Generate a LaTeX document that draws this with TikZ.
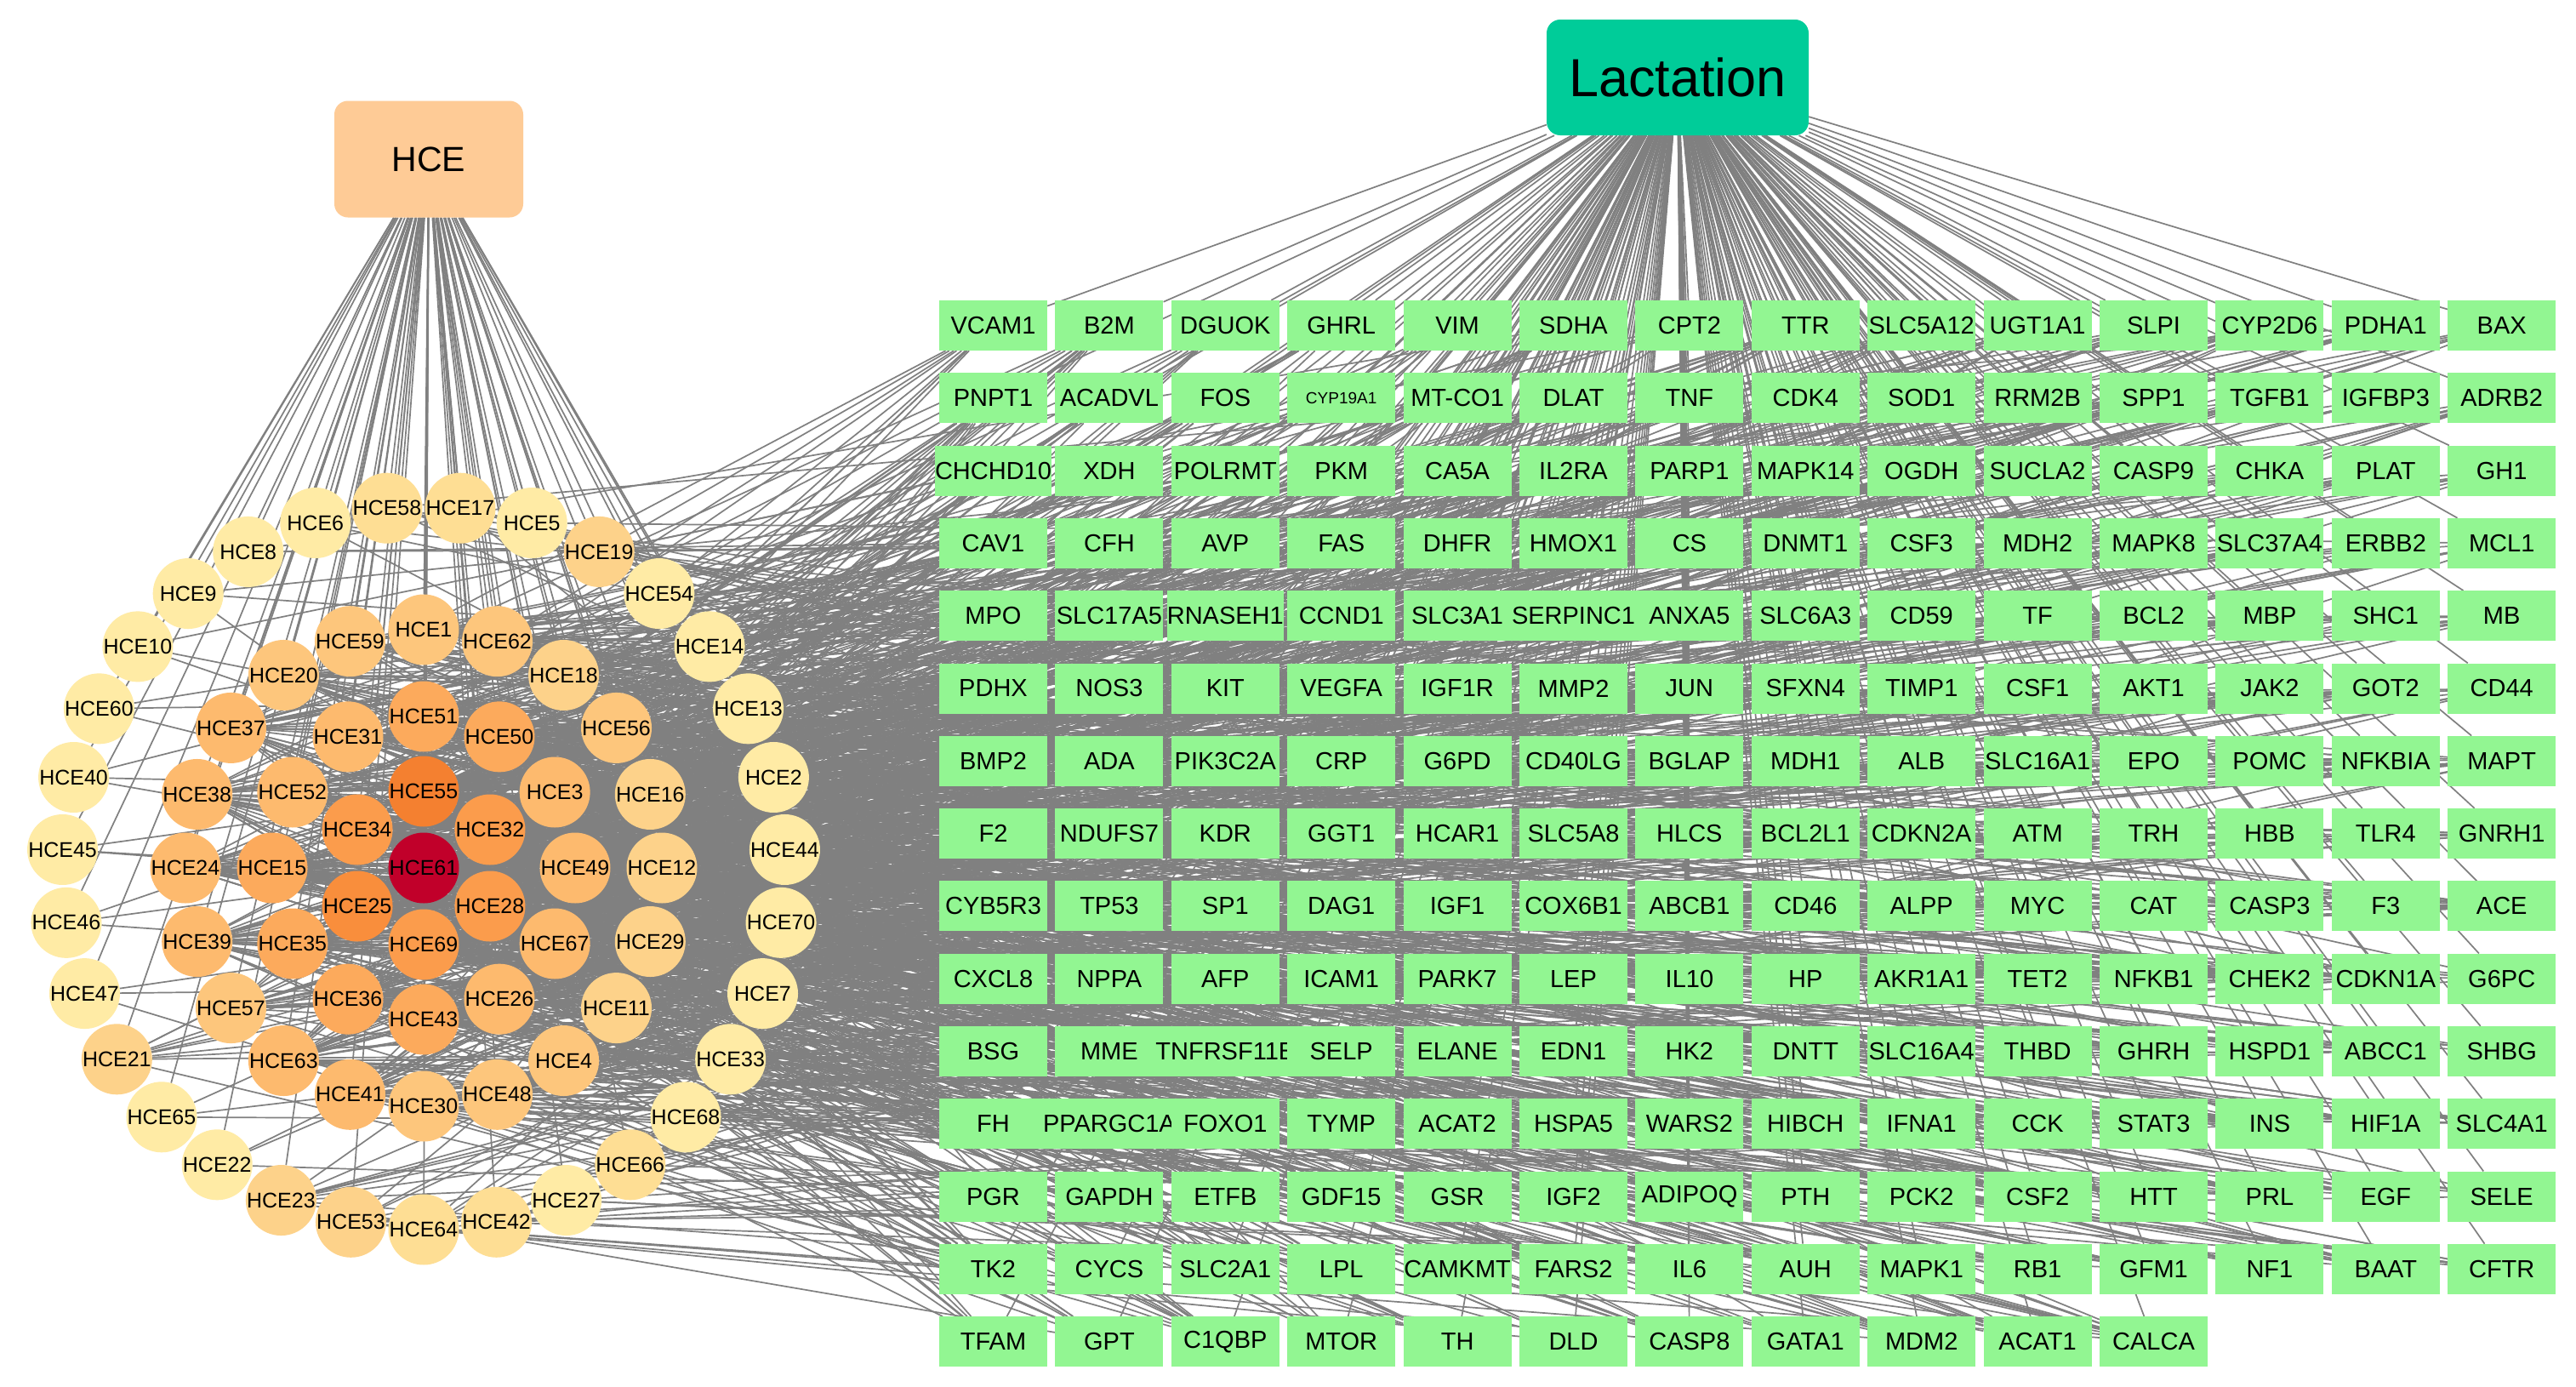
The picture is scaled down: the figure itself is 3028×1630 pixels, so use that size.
\documentclass[tikz,border=0pt]{standalone}
\usepackage{fontspec}
\setmainfont{Liberation Sans}
\usetikzlibrary{backgrounds}
\definecolor{hc1}{RGB}{255,235,165}
\definecolor{hc2}{RGB}{254,222,148}
\definecolor{hc3}{RGB}{253,210,138}
\definecolor{hc4}{RGB}{253,198,124}
\definecolor{hc5}{RGB}{253,186,110}
\definecolor{hc6}{RGB}{252,170,92}
\definecolor{hc7}{RGB}{251,156,76}
\definecolor{hc8}{RGB}{249,142,60}
\definecolor{hc9}{RGB}{244,128,48}
\definecolor{hc10}{RGB}{193,0,42}
\definecolor{boxgreen}{RGB}{146,246,146}
\definecolor{hcebox}{RGB}{254,203,150}
\definecolor{lacbox}{RGB}{0,204,153}
\definecolor{edgegray}{RGB}{128,128,128}
\newcommand\cyptext{{\fontsize{19}{22}\selectfont CYP19A1}}
\def\outerlist{17/2,5/1,19/3,54/1,14/1,13/1,2/1,44/1,70/1,7/1,33/1,68/1,66/2,27/1,42/2,64/2,53/3,23/3,22/1,65/1,21/3,47/1,46/1,45/1,40/1,60/1,10/1,9/1,8/1,6/1,58/2}
\def\midlist{1/4,62/4,18/3,56/4,16/3,12/3,29/3,11/3,4/4,48/4,30/4,41/5,63/5,57/4,39/5,24/5,38/5,37/5,20/4,59/4}
\def\innerlist{51/6,50/6,3/5,49/5,67/5,26/5,43/6,36/6,35/6,15/6,52/5,31/5}
\def\corelist{55/9,32/7,28/7,69/7,25/8,34/7}
\edef\alllist{\outerlist,\midlist,\innerlist,\corelist,61/10}
\begin{document}
\begin{tikzpicture}[x=1pt,y=-1pt,
  gbox/.style={rectangle, fill=boxgreen, minimum width=127pt, minimum height=59pt, inner sep=0pt, font=\fontsize{29}{34}\selectfont},
  hnode/.style={circle, minimum size=83pt, inner sep=0pt, font=\fontsize{25}{30}\selectfont},
  edge/.style={draw=edgegray, line width=1.7pt},
  topbox/.style={rectangle, rounded corners=16pt, inner sep=0pt}]
\useasboundingbox (0,0) rectangle (3028,1630);
% source nodes
\node[topbox, fill=hcebox, minimum width=222pt, minimum height=137pt, font=\fontsize{41}{48}\selectfont] (hce) at (504,187) {HCE};
\node[topbox, fill=lacbox, minimum width=308pt, minimum height=136pt, font=\fontsize{63}{72}\selectfont] (lac) at (1972,91) {Lactation};
% compound rings
\foreach \n/\k [count=\i from 0] in \outerlist {
  \pgfmathsetmacro\ang{84.194-11.6129*\i}
  \pgfmathsetmacro\px{498+425*cos(\ang)}
  \pgfmathsetmacro\py{1020-425*sin(\ang)}
  \node[hnode, fill=hc\k] (h\n) at (\px,\py) {HCE\n};
}
\foreach \n/\k [count=\i from 0] in \midlist {
  \pgfmathsetmacro\ang{90-18*\i}
  \pgfmathsetmacro\px{498+280*cos(\ang)}
  \pgfmathsetmacro\py{1020-280*sin(\ang)}
  \node[hnode, fill=hc\k] (h\n) at (\px,\py) {HCE\n};
}
\foreach \n/\k [count=\i from 0] in \innerlist {
  \pgfmathsetmacro\ang{90-30*\i}
  \pgfmathsetmacro\px{498+178*cos(\ang)}
  \pgfmathsetmacro\py{1020-178*sin(\ang)}
  \node[hnode, fill=hc\k] (h\n) at (\px,\py) {HCE\n};
}
\foreach \n/\k [count=\i from 0] in \corelist {
  \pgfmathsetmacro\ang{90-60*\i}
  \pgfmathsetmacro\px{498+90*cos(\ang)}
  \pgfmathsetmacro\py{1020-90*sin(\ang)}
  \node[hnode, fill=hc\k] (h\n) at (\px,\py) {HCE\n};
}
\node[hnode, fill=hc10] (h61) at (498,1020) {HCE61};
% target grid
\foreach \t [count=\j] in {VCAM1,B2M,DGUOK,GHRL,VIM,SDHA,CPT2,TTR,SLC5A12,UGT1A1,SLPI,CYP2D6,PDHA1,BAX,
PNPT1,ACADVL,FOS,\cyptext,MT-CO1,DLAT,TNF,CDK4,SOD1,RRM2B,SPP1,TGFB1,IGFBP3,ADRB2,
CHCHD10,XDH,POLRMT,PKM,CA5A,IL2RA,PARP1,MAPK14,OGDH,SUCLA2,CASP9,CHKA,PLAT,GH1,
CAV1,CFH,AVP,FAS,DHFR,HMOX1,CS,DNMT1,CSF3,MDH2,MAPK8,SLC37A4,ERBB2,MCL1,
MPO,SLC17A5,RNASEH1,CCND1,SLC3A1,SERPINC1,ANXA5,SLC6A3,CD59,TF,BCL2,MBP,SHC1,MB,
PDHX,NOS3,KIT,VEGFA,IGF1R,MMP2,JUN,SFXN4,TIMP1,CSF1,AKT1,JAK2,GOT2,CD44,
BMP2,ADA,PIK3C2A,CRP,G6PD,CD40LG,BGLAP,MDH1,ALB,SLC16A1,EPO,POMC,NFKBIA,MAPT,
F2,NDUFS7,KDR,GGT1,HCAR1,SLC5A8,HLCS,BCL2L1,CDKN2A,ATM,TRH,HBB,TLR4,GNRH1,
CYB5R3,TP53,SP1,DAG1,IGF1,COX6B1,ABCB1,CD46,ALPP,MYC,CAT,CASP3,F3,ACE,
CXCL8,NPPA,AFP,ICAM1,PARK7,LEP,IL10,HP,AKR1A1,TET2,NFKB1,CHEK2,CDKN1A,G6PC,
BSG,MME,TNFRSF11B,SELP,ELANE,EDN1,HK2,DNTT,SLC16A4,THBD,GHRH,HSPD1,ABCC1,SHBG,
FH,PPARGC1A,FOXO1,TYMP,ACAT2,HSPA5,WARS2,HIBCH,IFNA1,CCK,STAT3,INS,HIF1A,SLC4A1,
PGR,GAPDH,ETFB,GDF15,GSR,IGF2,ADIPOQ,PTH,PCK2,CSF2,HTT,PRL,EGF,SELE,
TK2,CYCS,SLC2A1,LPL,CAMKMT,FARS2,IL6,AUH,MAPK1,RB1,GFM1,NF1,BAAT,CFTR,
TFAM,GPT,C1QBP,MTOR,TH,DLD,CASP8,GATA1,MDM2,ACAT1,CALCA} {
  \pgfmathtruncatemacro\rw{(\j-1)/14}
  \pgfmathtruncatemacro\cl{\j-1-14*\rw}
  \node[gbox] (b\j) at (1167.5+136.4*\cl, 382.5+85.3*\rw) {\t};
}
% connectors
\begin{pgfonlayer}{background}
  \fill[white] (0,0) rectangle (3028,1630);
  \foreach \i in {1,...,207} \draw[edge] (lac) -- (b\i);
  \foreach \n/\k in \alllist \draw[edge] (hce) -- (h\n);
  \pgfmathsetseed{11}
  \foreach \n/\k in \alllist {
    \pgfmathtruncatemacro\deg{{3,6,10,22,32,45,58,72,88,175}[\k-1]}
    \foreach \m in {1,...,\deg} {
      \pgfmathrandominteger{\r}{1}{207}
      \draw[edge] (h\n) -- (b\r);
    }
  }
\end{pgfonlayer}
\end{tikzpicture}
\end{document}
